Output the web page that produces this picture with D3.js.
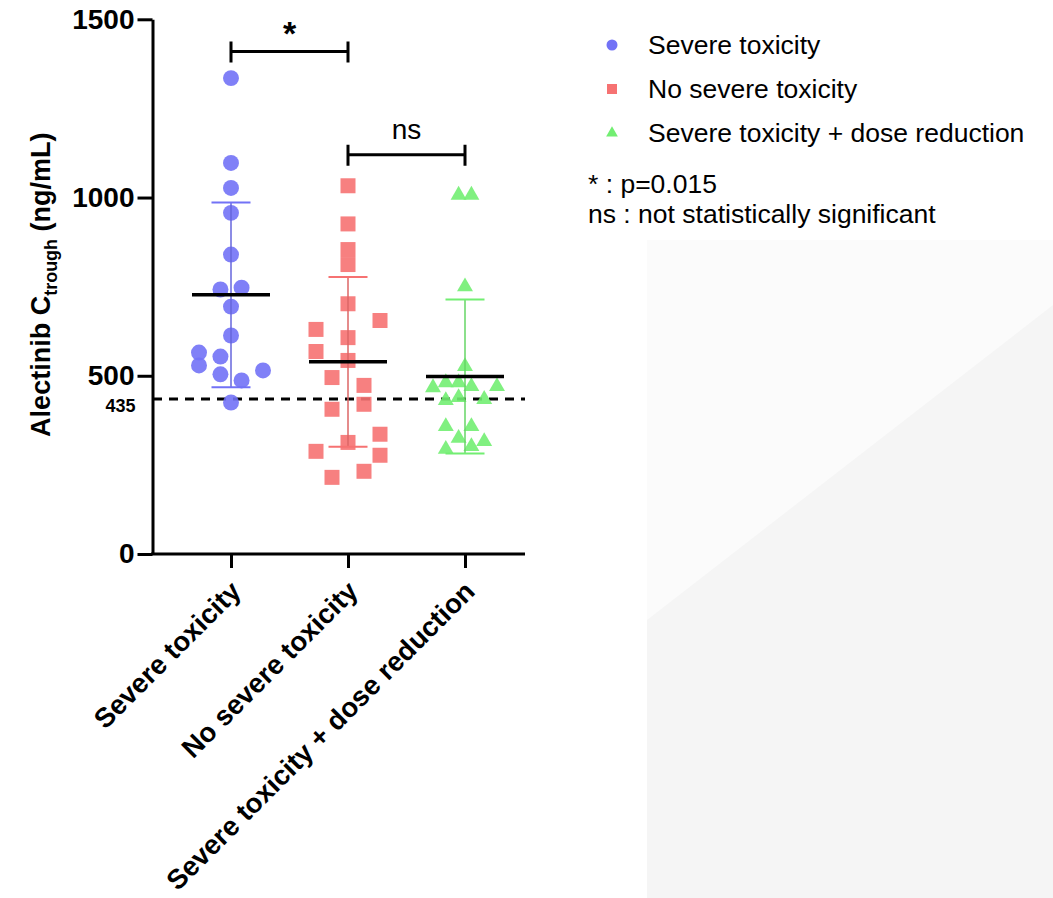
<!DOCTYPE html>
<html>
<head>
<meta charset="utf-8">
<script src="https://cdn.jsdelivr.net/npm/d3@7"></script>
<style>
  body { margin: 0; background: #fff; }
  svg { display: block; font-family: "Liberation Sans", Arial, sans-serif; }
</style>
</head>
<body>
<div id="chart"></div>
<script>
const groups = ["Severe toxicity", "No severe toxicity", "Severe toxicity + dose reduction"];
const groupColors = ["#7272f6", "#f67272", "#72ee72"];
const groupShapes = [d3.symbolCircle, d3.symbolSquare, d3.symbolTriangle];

// value, jitter (-1..1 lateral spread in the scatter)
const severeValues = [1335, 1097, 1027, 957, 840, 742, 747, 694, 613, 565, 554, 529, 504, 487, 515, 425];
const severeJitter = [0, 0, 0, 0, 0, -0.33, 0.33, 0, 0, -1, -0.33, -1, -0.33, 0.33, 1, 0];

const noSevereValues = [1033, 926, 854, 812, 702, 655, 630, 607, 568, 543, 495, 473, 406, 420, 336, 313, 288, 277, 215, 232];
const noSevereJitter = [0, 0, 0, 0, 0, 1, -1, 0, -1, 0, -0.5, 0.5, -0.5, 0.5, 1, 0, -1, 1, -0.5, 0.5];

const reductionValues = [1007, 1007, 750, 526, 481, 481, 467, 470, 470, 439, 431, 434, 358, 358, 325, 316, 294, 302];
const reductionJitter = [-0.2, 0.2, 0, 0, -0.6, -0.2, -1, 0.2, 1, -0.2, -0.6, 0.6, -0.6, 0.2, -0.2, 0.6, -0.6, 0.2];

const groupMeans = [727, 539, 498];
const groupSD = [259, 238, 216];

const yTicks = [0, 500, 1000, 1500];
const threshold = 435;

const comparisons = [
  { from: 0, to: 1, label: "*", y: 1410, bold: true },
  { from: 1, to: 2, label: "ns", y: 1120, bold: false },
];
const notes = ["* : p=0.015", "ns : not statistically significant"];

const width = 1053;
const height = 898;

const svg = d3.select("#chart").append("svg")
  .attr("width", width)
  .attr("height", height);

// faint watermark panel in the background
const bg = svg.append("g");
bg.append("rect")
  .attr("x", 647).attr("y", 240).attr("width", width - 647).attr("height", height - 240)
  .attr("fill", "#fbfbfb");
bg.append("path")
  .attr("d", `M647,620 L${width},305 L${width},${height} L647,${height} Z`)
  .attr("fill", "#f5f5f5");

const x = d3.scalePoint()
  .domain(groups)
  .range([231, 465]);

const y = d3.scaleLinear()
  .domain([0, 1500])
  .range([554, 19.3]);

const jitter = d3.scaleLinear().domain([-1, 1]).range([-32, 32]);

const series = [
  { values: severeValues, jitter: severeJitter },
  { values: noSevereValues, jitter: noSevereJitter },
  { values: reductionValues, jitter: reductionJitter },
];

const points = series.flatMap((s, gi) =>
  s.values.map((v, i) => ({ group: gi, value: v, j: s.jitter[i] }))
);

// threshold line
svg.append("line")
  .attr("x1", x.range()[0] - 78)
  .attr("x2", 525)
  .attr("y1", y(threshold))
  .attr("y2", y(threshold))
  .attr("stroke", "#000")
  .attr("stroke-width", 3)
  .attr("stroke-dasharray", "9,7");

// points
const sizes = [200, 225, 110];
svg.append("g")
  .selectAll("path")
  .data(points)
  .join("path")
  .attr("transform", (d) => `translate(${x(groups[d.group]) + jitter(d.j)},${y(d.value)})`)
  .attr("d", (d) => d3.symbol(groupShapes[d.group], sizes[d.group])())
  .attr("fill", (d) => groupColors[d.group])
  .attr("fill-opacity", 0.9);

// error bars (mean ± SD) and mean line
const stats = svg.append("g")
  .selectAll("g")
  .data(groups)
  .join("g")
  .attr("transform", (d) => `translate(${x(d)},0)`);

stats.append("line")
  .attr("y1", (d, i) => y(groupMeans[i] - groupSD[i]))
  .attr("y2", (d, i) => y(groupMeans[i] + groupSD[i]))
  .attr("stroke", (d, i) => d3.color(groupColors[i]).darker(0.3))
  .attr("stroke-width", 1.5);

[-1, 1].forEach((sgn) => {
  stats.append("line")
    .attr("x1", -19.5)
    .attr("x2", 19.5)
    .attr("y1", (d, i) => y(groupMeans[i] + sgn * groupSD[i]))
    .attr("y2", (d, i) => y(groupMeans[i] + sgn * groupSD[i]))
    .attr("stroke", (d, i) => groupColors[i])
    .attr("stroke-width", 2);
});

stats.append("line")
  .attr("x1", -39)
  .attr("x2", 39)
  .attr("y1", (d, i) => y(groupMeans[i]))
  .attr("y2", (d, i) => y(groupMeans[i]))
  .attr("stroke", "#000")
  .attr("stroke-width", 3.5);

// axes
const yAxisG = svg.append("g")
  .attr("transform", `translate(${x.range()[0] - 78.5},0)`)
  .call(d3.axisLeft(y).tickValues(yTicks).tickFormat(d3.format("d"))
    .tickSize(15).tickSizeOuter(0).tickPadding(3));

yAxisG.select(".domain").attr("stroke-width", 3);
yAxisG.selectAll(".tick line").attr("stroke-width", 3);
yAxisG.selectAll(".tick text")
  .attr("font-size", 28)
  .attr("font-weight", "bold")
  .attr("font-family", "Liberation Sans, Arial, sans-serif")
  .attr("fill", "#000");

yAxisG.append("text")
  .attr("x", -17)
  .attr("y", y(threshold))
  .attr("dy", "0.7em")
  .attr("text-anchor", "end")
  .attr("fill", "#000")
  .attr("font-size", 18)
  .attr("font-weight", "bold")
  .attr("font-family", "Liberation Sans, Arial, sans-serif")
  .text(threshold);

const xAxisG = svg.append("g")
  .attr("transform", `translate(0,${y(0)})`)
  .call(d3.axisBottom(x).tickSize(14).tickSizeOuter(0).tickFormat(""));

xAxisG.select(".domain")
  .attr("d", `M${x.range()[0] - 80},0H525`)
  .attr("stroke-width", 3);
xAxisG.selectAll(".tick line").attr("stroke-width", 3);

xAxisG.selectAll(".tick")
  .append("text")
  .attr("fill", "#000")
  .attr("font-size", 27.5)
  .attr("font-weight", "bold")
  .attr("font-family", "Liberation Sans, Arial, sans-serif")
  .attr("text-anchor", "end")
  .attr("transform", "translate(11,39) rotate(-45)")
  .text((d) => d);

// y axis title with subscript
const yTitle = svg.append("text")
  .attr("transform", `translate(50,${(y(0) + y(1500)) / 2 - 2}) rotate(-90)`)
  .attr("text-anchor", "middle")
  .attr("font-size", 27)
  .attr("font-weight", "bold")
  .attr("fill", "#000");
yTitle.append("tspan").text("Alectinib C");
yTitle.append("tspan").attr("font-size", 18).attr("dy", 7).text("trough");
yTitle.append("tspan").attr("dy", -7).text(" (ng/mL)");

// significance brackets
const brackets = svg.append("g")
  .selectAll("g")
  .data(comparisons)
  .join("g");

brackets.append("path")
  .attr("d", (d) => {
    const x1 = x(groups[d.from]), x2 = x(groups[d.to]), yy = y(d.y);
    return `M${x1},${yy - 10}V${yy + 11}M${x1},${yy}H${x2}M${x2},${yy - 10}V${yy + 11}`;
  })
  .attr("fill", "none")
  .attr("stroke", "#000")
  .attr("stroke-width", 3);

brackets.append("text")
  .attr("x", (d) => (x(groups[d.from]) + x(groups[d.to])) / 2)
  .attr("y", (d) => y(d.y) - (d.bold ? 6 : 16))
  .attr("text-anchor", "middle")
  .attr("font-size", (d) => (d.bold ? 34 : 28))
  .attr("font-weight", (d) => (d.bold ? "bold" : "normal"))
  .attr("fill", "#000")
  .text((d) => d.label);

// legend
const legend = svg.append("g").attr("transform", "translate(612,45)");
const legendItems = legend.selectAll("g")
  .data(groups)
  .join("g")
  .attr("transform", (d, i) => `translate(0,${i * 44})`);

legendItems.append("path")
  .attr("d", (d, i) => d3.symbol(groupShapes[i], [95, 100, 60][i])())
  .attr("fill", (d, i) => groupColors[i]);

legendItems.append("text")
  .attr("x", 36)
  .attr("dy", "0.35em")
  .attr("font-size", 26.5)
  .attr("fill", "#000")
  .text((d) => d);

svg.append("g")
  .selectAll("text")
  .data(notes)
  .join("text")
  .attr("x", 588)
  .attr("y", (d, i) => 193 + i * 30)
  .attr("font-size", 26.5)
  .attr("fill", "#000")
  .text((d) => d);
</script>
</body>
</html>
